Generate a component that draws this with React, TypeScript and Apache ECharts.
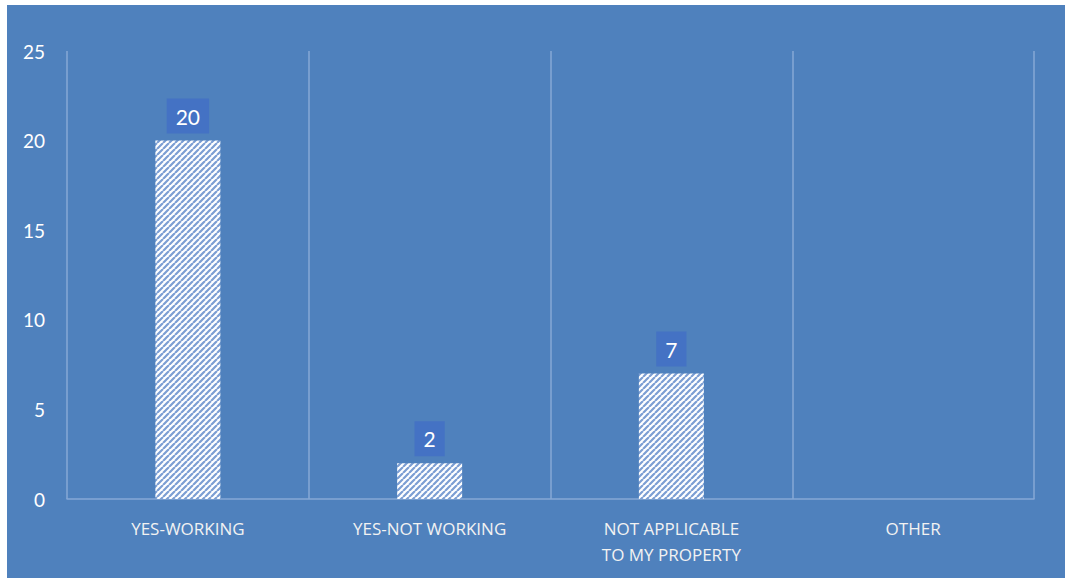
import React, { useEffect, useRef } from "react";
import * as echarts from "echarts";

const categories = ["YES-WORKING", "YES-NOT WORKING", "NOT APPLICABLE TO MY PROPERTY", "OTHER"];
const values = [20, 2, 7, 0];
const yTicks = { min: 0, max: 25, interval: 5 };

function makeHatch(): string {
  const s = 6;
  const c = document.createElement("canvas");
  c.width = s;
  c.height = s;
  const ctx = c.getContext("2d")!;
  ctx.fillStyle = "#ffffff";
  ctx.fillRect(0, 0, s, s);
  ctx.strokeStyle = "#7c9ed3";
  ctx.lineWidth = 2.2;
  ctx.beginPath();
  for (let k = -s; k <= 2 * s; k += s) {
    ctx.moveTo(k, s);
    ctx.lineTo(k + s, 0);
  }
  ctx.stroke();
  return c.toDataURL();
}

export default function App() {
  const ref = useRef<HTMLDivElement>(null);
  useEffect(() => {
    if (!ref.current) return;
    const chart = echarts.init(ref.current, undefined, { renderer: "svg" });
    const img = new Image();
    img.src = makeHatch();
    const hatch = { image: img, repeat: "repeat" } as any;
    const data = values.map((v) => ({ value: v, label: { show: v > 0 } }));
    chart.setOption({
      animation: false,
      backgroundColor: "#4F81BD",
      grid: { left: 60, right: 31, top: 46, bottom: 79 },
      xAxis: {
        type: "category",
        data: categories,
        axisLine: { show: true, lineStyle: { color: "#86A8D6", width: 1.5 } },
        axisTick: { show: false },
        splitLine: { show: true, lineStyle: { color: "#86A8D6", width: 1.5 } },
        axisLabel: {
          color: "#F2F2F2",
          fontFamily: "Open Sans",
          fontSize: 17,
          margin: 16,
          lineHeight: 26,
          interval: 0,
          formatter: (v: string) =>
            v === "NOT APPLICABLE TO MY PROPERTY" ? "NOT APPLICABLE\nTO MY PROPERTY" : v,
        },
      },
      yAxis: {
        type: "value",
        min: yTicks.min,
        max: yTicks.max,
        interval: yTicks.interval,
        axisLine: { show: false },
        axisTick: { show: false },
        splitLine: { show: false },
        axisLabel: { color: "#FFFFFF", fontFamily: "Lato", fontSize: 19, margin: 22 },
      },
      series: [
        {
          type: "bar",
          data,
          barWidth: 65,
          itemStyle: { color: hatch },
          label: {
            position: "top",
            distance: 7,
            color: "#FFFFFF",
            fontFamily: "Lato",
            fontSize: 21,
            backgroundColor: "#4472C4",
            padding: [7, 9],
          },
        },
      ],
    });
    img.onload = () => chart.setOption({ series: [{ itemStyle: { color: hatch } }] });
    return () => chart.dispose();
  }, []);
  return (
    <div
      ref={ref}
      style={{ position: "absolute", left: 7, top: 5, width: 1058, height: 573 }}
    />
  );
}
